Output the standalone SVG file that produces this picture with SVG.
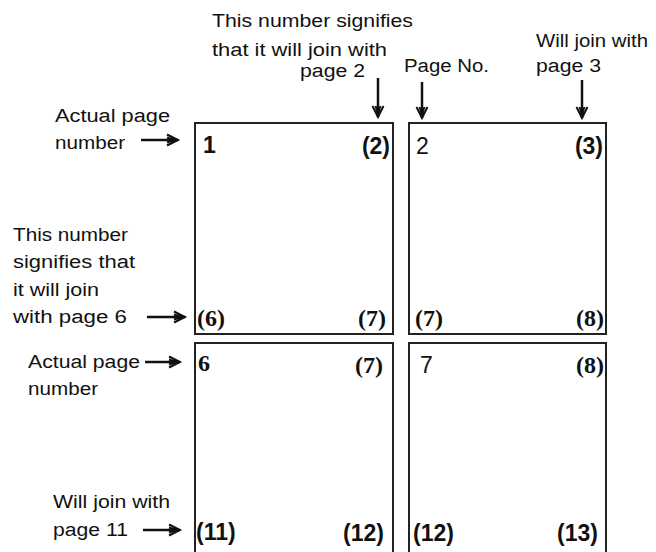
<svg xmlns="http://www.w3.org/2000/svg" width="656" height="552" viewBox="0 0 656 552">
<defs>
<style>
.lbl{font-family:"Liberation Sans",Arial,sans-serif;font-size:18px;fill:#111}
.n{font-family:"Liberation Sans",Arial,sans-serif;font-size:23px;fill:#111}
.b{font-weight:bold}
.s{font-family:"Liberation Serif","Times New Roman",serif;font-size:24px;font-weight:bold;fill:#111}
.page{fill:#fff;stroke:#222;stroke-width:2}
.arr{stroke:#111;stroke-width:2.5;fill:none;marker-end:url(#ah)}
</style>
<marker id="ah" markerUnits="userSpaceOnUse" markerWidth="16" markerHeight="14" refX="13" refY="7" orient="auto">
<path d="M2,1.5 L13,7 L2,12.5 M2,4.5 L9,7 L2,9.5" fill="none" stroke="#111" stroke-width="2"/>
</marker>
</defs>
<rect width="656" height="552" fill="#fff"/>

<g id="page1">
<rect class="page" x="195" y="123" width="198" height="211"/>
<text class="n b" x="203" y="153">1</text>
<text class="n b" x="390" y="154" text-anchor="end">(2)</text>
<text class="s" x="197" y="326">(6)</text>
<text class="s" x="386" y="326" text-anchor="end">(7)</text>
</g>
<g id="page2">
<rect class="page" x="409" y="123" width="197" height="211"/>
<text class="n" x="416" y="154">2</text>
<text class="n b" x="603" y="154" text-anchor="end">(3)</text>
<text class="s" x="415" y="326">(7)</text>
<text class="s" x="604" y="326" text-anchor="end">(8)</text>
</g>
<g id="page6">
<rect class="page" x="195" y="343" width="198" height="230"/>
<text class="s" x="198" y="371">6</text>
<text class="s" x="383" y="373" text-anchor="end">(7)</text>
<text class="n b" x="196" y="540">(11)</text>
<text class="n b" x="384" y="541" text-anchor="end">(12)</text>
</g>
<g id="page7">
<rect class="page" x="409" y="343" width="197" height="230"/>
<text class="n" x="420" y="373">7</text>
<text class="s" x="604" y="373" text-anchor="end">(8)</text>
<text class="n b" x="413" y="541">(12)</text>
<text class="n b" x="598" y="541" text-anchor="end">(13)</text>
</g>

<g id="labels">
<text class="lbl" x="212" y="27" textLength="201" lengthAdjust="spacingAndGlyphs">This number signifies</text>
<text class="lbl" x="212" y="56" textLength="175" lengthAdjust="spacingAndGlyphs">that it will join with</text>
<text class="lbl" x="300" y="77" textLength="65" lengthAdjust="spacingAndGlyphs">page 2</text>
<text class="lbl" x="404" y="72" textLength="85" lengthAdjust="spacingAndGlyphs">Page No.</text>
<text class="lbl" x="536" y="47" textLength="112" lengthAdjust="spacingAndGlyphs">Will join with</text>
<text class="lbl" x="536" y="72" textLength="65" lengthAdjust="spacingAndGlyphs">page 3</text>
<text class="lbl" x="55" y="122" textLength="115" lengthAdjust="spacingAndGlyphs">Actual page</text>
<text class="lbl" x="55" y="149" textLength="70" lengthAdjust="spacingAndGlyphs">number</text>
<text class="lbl" x="13" y="241" textLength="115" lengthAdjust="spacingAndGlyphs">This number</text>
<text class="lbl" x="13" y="268" textLength="122" lengthAdjust="spacingAndGlyphs">signifies that</text>
<text class="lbl" x="13" y="296" textLength="86" lengthAdjust="spacingAndGlyphs">it will join</text>
<text class="lbl" x="13" y="323" textLength="114" lengthAdjust="spacingAndGlyphs">with page 6</text>
<text class="lbl" x="28" y="368" textLength="112" lengthAdjust="spacingAndGlyphs">Actual page</text>
<text class="lbl" x="28" y="395" textLength="70" lengthAdjust="spacingAndGlyphs">number</text>
<text class="lbl" x="53" y="508" textLength="117" lengthAdjust="spacingAndGlyphs">Will join with</text>
<text class="lbl" x="53" y="536" textLength="75" lengthAdjust="spacingAndGlyphs">page 11</text>
</g>

<g id="connectors">
<line class="arr" x1="141" y1="140" x2="178" y2="140"/>
<line class="arr" x1="147" y1="317" x2="185" y2="317"/>
<line class="arr" x1="145" y1="362" x2="180" y2="362"/>
<line class="arr" x1="143" y1="530" x2="180" y2="530"/>
<line class="arr" x1="378" y1="78" x2="378" y2="117"/>
<line class="arr" x1="422" y1="82" x2="422" y2="118"/>
<line class="arr" x1="582" y1="80" x2="582" y2="118"/>
</g>
</svg>
